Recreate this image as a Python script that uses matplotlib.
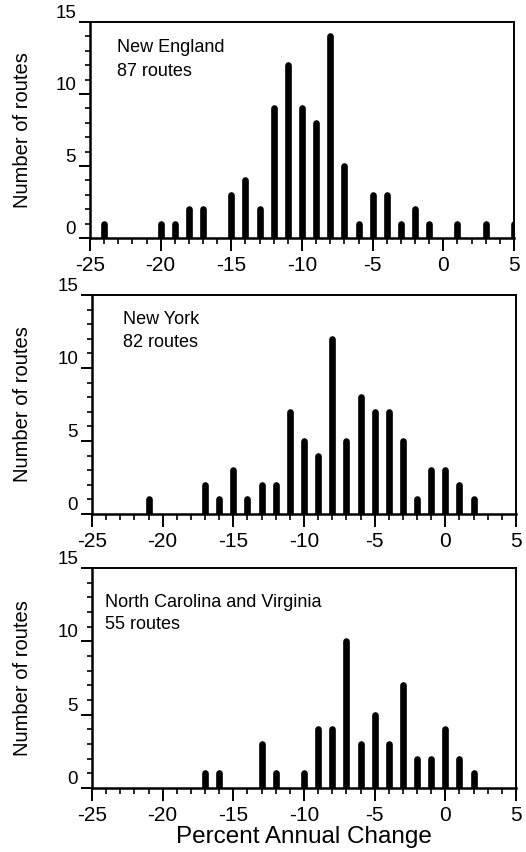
import matplotlib
matplotlib.use("Agg")
import matplotlib.pyplot as plt
from matplotlib.ticker import MultipleLocator

plt.rcParams['font.family'] = ['Liberation Sans', 'DejaVu Sans']
plt.rcParams['axes.unicode_minus'] = False

# Data: percent annual change (bin) -> number of routes
ne_x = [-24, -20, -19, -18, -17, -15, -14, -13, -12, -11, -10, -9, -8, -7, -6, -5, -4, -3, -2, -1, 1, 3, 5]
ne_y = [1, 1, 1, 2, 2, 3, 4, 2, 9, 12, 9, 8, 14, 5, 1, 3, 3, 1, 2, 1, 1, 1, 1]

ny_x = [-21, -17, -16, -15, -14, -13, -12, -11, -10, -9, -8, -7, -6, -5, -4, -3, -2, -1, 0, 1, 2]
ny_y = [1, 2, 1, 3, 1, 2, 2, 7, 5, 4, 12, 5, 8, 7, 7, 5, 1, 3, 3, 2, 1]

nc_x = [-17, -16, -13, -12, -10, -9, -8, -7, -6, -5, -4, -3, -2, -1, 0, 1, 2]
nc_y = [1, 1, 3, 1, 1, 4, 4, 10, 3, 5, 3, 7, 2, 2, 4, 2, 1]

titles = ["New England", "New York", "North Carolina and Virginia"]
counts = ["87 routes", "82 routes", "55 routes"]
x_ticks = [-25, -20, -15, -10, -5, 0, 5]
y_ticks = [0, 5, 10, 15]

W, H = 526, 852
fig = plt.figure(figsize=(W / 100, H / 100), dpi=100)

# axes boxes in pixels: left, right, top, bottom
boxes = [(90, 514, 22, 238), (92, 516, 295, 514), (92, 516, 568, 788)]
text_pos = [(0.064, 0.88, 0.77), (0.073, 0.89, 0.785), (0.031, 0.845, 0.745)]
ylab_x = [-0.136, -0.142, -0.142]
data = [(ne_x, ne_y), (ny_x, ny_y), (nc_x, nc_y)]

for i, ((l, r, t, b), (xs, ys)) in enumerate(zip(boxes, data)):
    ax = fig.add_axes([l / W, (H - b) / H, (r - l) / W, (b - t) / H])
    lc = ax.vlines(xs, 0, ys, colors='black', linewidth=4.8)
    lc.set_capstyle('round')
    ax.set_xlim(-25, 5)
    ax.set_ylim(0, 15)
    ax.set_xticks(x_ticks)
    ax.set_xticklabels([str(v) for v in x_ticks])
    ax.set_yticks(y_ticks)
    ax.set_yticklabels([str(v) for v in y_ticks])
    ax.xaxis.set_minor_locator(MultipleLocator(1))
    ax.yaxis.set_minor_locator(MultipleLocator(1))
    for s in ax.spines.values():
        s.set_linewidth(1.4)
    ax.spines['left'].set_linewidth(1.8)
    ax.spines['bottom'].set_linewidth(1.8)
    ax.tick_params(axis='x', which='major', direction='out', length=9, width=1.4,
                   labelsize=15, pad=4)
    ax.tick_params(axis='x', which='minor', direction='out', length=4, width=1.2)
    ax.tick_params(axis='y', which='major', direction='out', length=8, width=1.4,
                   labelsize=13.5, pad=2)
    ax.tick_params(axis='y', which='minor', direction='out', length=3.5, width=1.2)
    for lab in ax.get_yticklabels():
        lab.set_verticalalignment('bottom')
    ax.set_ylabel("Number of routes", fontsize=14.5)
    ax.yaxis.set_label_coords(ylab_x[i], 0.5)
    tx, ty1, ty2 = text_pos[i]
    ax.text(tx, ty1, titles[i], transform=ax.transAxes, fontsize=13,
            ha='left', va='center')
    ax.text(tx, ty2, counts[i], transform=ax.transAxes, fontsize=13,
            ha='left', va='center')
    if i == 2:
        ax.set_xlabel("Percent Annual Change", fontsize=17.5, labelpad=1)

fig.savefig("out.png", dpi=100)
